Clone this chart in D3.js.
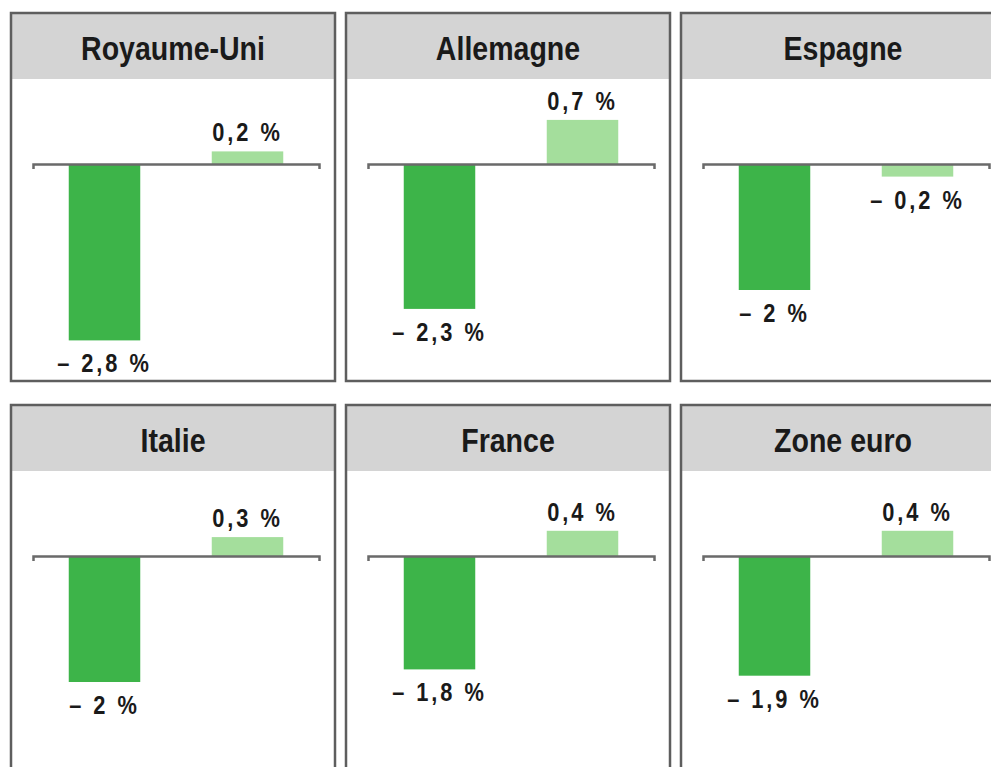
<!DOCTYPE html>
<html lang="fr">
<head>
    <meta charset="UTF-8">
    <title>Croissance</title>
    <script src="https://d3js.org/d3.v7.min.js"></script>
    <style>
        html, body { margin: 0; padding: 0; background: #fff; overflow: hidden; }
        svg { display: block; }
    </style>
</head>
<body>
    <svg id="chart" width="991" height="767"></svg>
    <script>
// Data
const countries = ["Royaume-Uni", "Allemagne", "Espagne", "Italie", "France", "Zone euro"];
const seriesKeys = ["2009", "2010"];
const values2009 = [-2.8, -2.3, -2, -2, -1.8, -1.9];
const values2010 = [0.2, 0.7, -0.2, 0.3, 0.4, 0.4];
const seriesColors = ["#3db449", "#a4de9c"];

// Layout of the small multiples
const colX = [11, 346, 681];
const rowY = [13, 405];
const panelW = 324, panelH = 368, headerH = 66;
const labelFont = "'Liberation Sans', Arial, Helvetica, sans-serif";
const squeeze = 0.84; // condensed look

const svg = d3.select("#chart");

// French number format: "– 2,8 %" / "0,2 %"
function fmt(v) {
    var s = String(Math.abs(v)).replace(".", ",") + " %";
    return v < 0 ? "\u2013 " + s : s;
}

// shared scales (same for every panel)
const x = d3.scaleBand()
    .domain(seriesKeys)
    .range([22, 308])
    .paddingInner(0.5)
    .paddingOuter(0.25);

const y = d3.scaleLinear()
    .domain([-3, 1])
    .range([151 + 3 * 63, 151 - 63]);

countries.forEach(function(name, i) {
    const px = colX[i % 3];
    const py = rowY[Math.floor(i / 3)];
    const vals = [values2009[i], values2010[i]];

    const g = svg.append("g")
        .attr("transform", "translate(" + px + "," + py + ")");

    // panel background + header
    g.append("rect")
        .attr("width", panelW)
        .attr("height", panelH)
        .attr("fill", "#fff");

    g.append("rect")
        .attr("width", panelW)
        .attr("height", headerH)
        .attr("fill", "#d4d4d4");

    g.append("g")
        .attr("transform", "translate(" + (panelW / 2) + ",47) scale(" + squeeze + ",1)")
        .append("text")
        .attr("text-anchor", "middle")
        .style("font-family", labelFont)
        .style("font-weight", "bold")
        .style("font-size", "34px")
        .style("fill", "#1a1a1a")
        .text(name);

    // bars
    g.selectAll("rect.bar")
        .data(vals)
        .enter().append("rect")
        .attr("class", "bar")
        .attr("x", (d, j) => x(seriesKeys[j]))
        .attr("width", x.bandwidth())
        .attr("y", d => y(Math.max(0, d)))
        .attr("height", d => Math.abs(y(d) - y(0)))
        .attr("fill", (d, j) => seriesColors[j]);

    // zero line with small end ticks
    g.append("g")
        .attr("transform", "translate(0," + y(0) + ")")
        .call(d3.axisBottom(x).tickValues([]).tickSizeOuter(5))
        .call(a => a.select(".domain")
            .attr("stroke", "#6a6a6a")
            .attr("stroke-width", 2.5));

    // value labels
    g.selectAll("g.val")
        .data(vals)
        .enter().append("g")
        .attr("class", "val")
        .attr("transform", (d, j) => "translate(" + (x(seriesKeys[j]) + x.bandwidth() / 2) + "," +
            (d < 0 ? y(d) + 32 : y(d) - 10) + ") scale(" + squeeze + ",1)")
        .append("text")
        .attr("text-anchor", "middle")
        .style("font-family", labelFont)
        .style("font-weight", "bold")
        .style("font-size", "26px")
        .style("letter-spacing", "3.5px")
        .style("fill", "#1a1a1a")
        .text(d => fmt(d));

    // border
    g.append("rect")
        .attr("width", panelW)
        .attr("height", panelH)
        .attr("fill", "none")
        .attr("stroke", "#5e5e5e")
        .attr("stroke-width", 2.5);
});
    </script>
</body>
</html>
